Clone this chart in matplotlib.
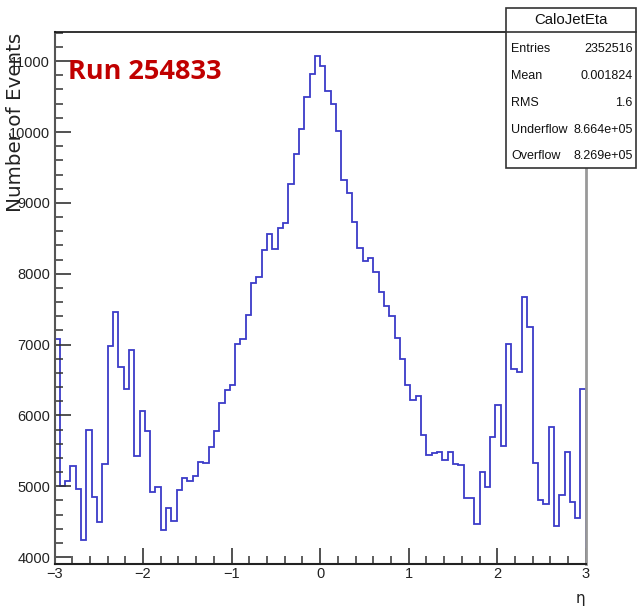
import numpy as np
import matplotlib
matplotlib.use("Agg")
import matplotlib.pyplot as plt
from matplotlib import font_manager
from matplotlib.patches import Rectangle
from matplotlib.lines import Line2D
from matplotlib.ticker import MultipleLocator, FixedLocator

# Histogram of calorimeter jet pseudorapidity, 100 bins over [-3, 3]
eta_low, eta_high, n_bins = -3.0, 3.0, 100
counts = [
    7080, 5000, 5080, 5290, 4965, 4245, 5790, 4850, 4490, 5320,
    6975, 7455, 6685, 6370, 6930, 5425, 6060, 5775, 4920, 4995,
    4385, 4695, 4515, 4950, 5115, 5080, 5140, 5350, 5335, 5550,
    5775, 6180, 6355, 6435, 7005, 7080, 7420, 7870, 7960, 8335,
    8560, 8350, 8645, 8715, 9270, 9695, 10040, 10490, 10820, 11070,
    10930, 10585, 10390, 10010, 9325, 9135, 8725, 8365, 8185, 8215,
    8025, 7740, 7540, 7410, 7095, 6795, 6430, 6220, 6280, 5730,
    5445, 5475, 5480, 5365, 5485, 5310, 5300, 4835, 4835, 4470,
    5195, 4985, 5690, 6150, 5565, 7015, 6660, 6610, 7665, 7255,
    5335, 4800, 4745, 5840, 4440, 4880, 5485, 4785, 4550, 6370,
]

x_ticks = [-3, -2, -1, 0, 1, 2, 3]
y_ticks = [4000, 5000, 6000, 7000, 8000, 9000, 10000, 11000]

hist_name = "CaloJetEta"
stat_names = ["Entries", "Mean", "RMS", "Underflow", "Overflow"]
stat_values = ["2352516", "0.001824", "1.6", "8.664e+05", "8.269e+05"]
run_label = "Run 254833"

# Condensed face for the axis and stats text when available
available = {f.name for f in font_manager.fontManager.ttflist}
if "Liberation Sans Narrow" in available:
    narrow, nscale = "Liberation Sans Narrow", 1.0
else:
    narrow, nscale = "Liberation Sans", 0.85

W, H = 637, 607
fig = plt.figure(figsize=(W / 100, H / 100), dpi=100)
fig.patch.set_facecolor("white")

x0, x1, ytop, ybot = 54.5, 585.8, 32, 564
ax = fig.add_axes([x0 / W, 1 - ybot / H, (x1 - x0) / W, (ybot - ytop) / H])

edges = np.linspace(eta_low, eta_high, n_bins + 1)
ax.stairs(counts, edges, color="#3b3bc8", linewidth=1.3, baseline=0)

ymin, ymax = min(counts), max(counts)
span = ymax - ymin
ax.set_xlim(eta_low, eta_high)
ax.set_ylim(ymin - 0.05 * span, ymax + 0.05 * span)

ax.xaxis.set_major_locator(FixedLocator(x_ticks))
ax.xaxis.set_minor_locator(MultipleLocator(0.2))
ax.yaxis.set_major_locator(FixedLocator(y_ticks))
ax.yaxis.set_minor_locator(MultipleLocator(200))
ax.set_xticklabels([f"{v:d}".replace("-", "\u2212") for v in x_ticks])
ax.set_yticklabels([str(v) for v in y_ticks])

ax.tick_params(which="both", direction="in", top=False, right=False,
               color="#333333")
ax.tick_params(which="major", length=11.3, width=1.2)
ax.tick_params(which="minor", length=5.5, width=1.1)
ax.tick_params(axis="x", which="major", pad=2.5)
ax.tick_params(axis="y", which="major", pad=3.2)
for lab in ax.get_xticklabels() + ax.get_yticklabels():
    lab.set_fontfamily(narrow)
    lab.set_fontsize(12.4 * nscale)
    lab.set_color("#222222")

ax.spines["left"].set_color("#555555")
ax.spines["left"].set_linewidth(1.5)
ax.spines["bottom"].set_color("#222222")
ax.spines["bottom"].set_linewidth(1.5)
ax.spines["top"].set_color("#111111")
ax.spines["top"].set_linewidth(1.2)
ax.spines["right"].set_color("#999999")
ax.spines["right"].set_linewidth(2.0)

# Axis titles
fig.text(16.0 / W, 1 - 33 / H, "Number of Events", rotation=90,
         ha="center", va="top", fontsize=14.3, family="DejaVu Sans",
         color="#222222")
fig.text(585 / W, 1 - 598 / H, "\u03b7", ha="right", va="center",
         fontsize=11, family="DejaVu Sans", color="#222222")

# Run label
fig.text(68 / W, 1 - 72 / H, run_label, ha="left", va="center",
         fontsize=19.5, family="Open Sans", fontweight="bold",
         color="#c00000")

# Statistics box
bx0, bx1, by0, by1 = 505.7, 636.0, 8.0, 168.0
fig.add_artist(Rectangle((bx0 / W, 1 - by1 / H), (bx1 - bx0) / W,
                         (by1 - by0) / H, transform=fig.transFigure,
                         facecolor="white", edgecolor="#333333",
                         linewidth=1.2, zorder=10))
fig.add_artist(Line2D([bx0 / W, bx1 / W], [1 - 32 / H, 1 - 32 / H],
                      transform=fig.transFigure, color="#333333",
                      linewidth=1.2, zorder=11))
fig.text((bx0 + bx1) / 2 / W, 1 - 20 / H, hist_name, ha="center",
         va="center", fontsize=12.7 * nscale, family=narrow,
         color="#111111", zorder=12)
row_y = [49, 76, 103, 130, 156]
stat_size = 11 if nscale == 1.0 else 9.0
for name, val, yy in zip(stat_names, stat_values, row_y):
    fig.text(511.5 / W, 1 - yy / H, name, ha="left", va="center",
             fontsize=stat_size, family=narrow, color="#111111", zorder=12)
    fig.text(632.5 / W, 1 - yy / H, val, ha="right", va="center",
             fontsize=stat_size, family=narrow, color="#111111", zorder=12)

fig.savefig("out.png", dpi=100)
